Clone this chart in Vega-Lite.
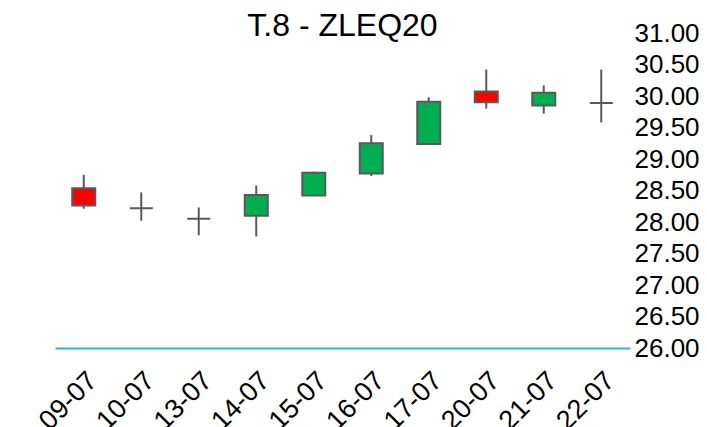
{
  "$schema": "https://vega.github.io/schema/vega-lite/v6.json",
  "autosize": {"type": "none"},
  "padding": {"left": 55, "top": 33, "right": 77, "bottom": 79},
  "width": 575,
  "height": 315,
  "background": "white",
  "config": {
    "view": {"stroke": null},
    "font": "Liberation Sans",
    "axisY": {
      "orient": "right",
      "title": null,
      "format": ".2f",
      "labelFontSize": 26,
      "labelColor": "#000000",
      "labelPadding": 4,
      "labelOverlap": false,
      "labelBound": false,
      "labelFlush": false,
      "ticks": false,
      "domain": false,
      "grid": false
    }
  },
  "title": {
    "text": "T.8 - ZLEQ20",
    "fontSize": 32,
    "fontWeight": "normal",
    "font": "Liberation Sans",
    "color": "#000000",
    "anchor": "middle",
    "frame": "group",
    "baseline": "alphabetic",
    "offset": 0,
    "dy": 48
  },
  "data": {
    "values": [
      {"date": "09-07", "open": 28.535, "high": 28.75, "low": 28.21, "close": 28.26},
      {"date": "10-07", "open": 28.22, "high": 28.47, "low": 28.02, "close": 28.22},
      {"date": "13-07", "open": 28.05, "high": 28.23, "low": 27.79, "close": 28.05},
      {"date": "14-07", "open": 28.10, "high": 28.58, "low": 27.77, "close": 28.43},
      {"date": "15-07", "open": 28.42, "high": 28.80, "low": 28.42, "close": 28.78},
      {"date": "16-07", "open": 28.77, "high": 29.38, "low": 28.73, "close": 29.25},
      {"date": "17-07", "open": 29.24, "high": 29.98, "low": 29.24, "close": 29.91},
      {"date": "20-07", "open": 30.07, "high": 30.42, "low": 29.80, "close": 29.90},
      {"date": "21-07", "open": 29.85, "high": 30.17, "low": 29.72, "close": 30.05},
      {"date": "22-07", "open": 29.89, "high": 30.42, "low": 29.58, "close": 29.89}
    ]
  },
  "encoding": {
    "x": {
      "field": "date",
      "type": "ordinal",
      "sort": null,
      "scale": {"paddingInner": 0, "paddingOuter": 0},
      "axis": {
        "title": null,
        "labelAngle": -45,
        "labelFontSize": 27,
        "labelColor": "#000000",
        "labelPadding": 19,
        "labelOverlap": false,
        "labelBound": false,
        "ticks": false,
        "domainColor": "#29b3e6",
        "domainWidth": 2,
        "grid": false
      }
    }
  },
  "layer": [
    {
      "mark": {"type": "rule", "color": "#595959", "strokeWidth": 2},
      "encoding": {
        "y": {
          "field": "low",
          "type": "quantitative",
          "scale": {"domain": [26, 31], "nice": false, "zero": false},
          "axis": {
            "orient": "right",
            "title": null,
            "values": [26, 26.5, 27, 27.5, 28, 28.5, 29, 29.5, 30, 30.5, 31],
            "format": ".2f",
            "labelOverlap": false
          }
        },
        "y2": {"field": "high"}
      }
    },
    {
      "mark": {"type": "bar", "width": 23, "stroke": "#595959", "strokeWidth": 2},
      "encoding": {
        "y": {
          "field": "open",
          "type": "quantitative",
          "axis": {
            "orient": "right",
            "title": null,
            "values": [26, 26.5, 27, 27.5, 28, 28.5, 29, 29.5, 30, 30.5, 31],
            "format": ".2f",
            "labelOverlap": false
          }
        },
        "y2": {"field": "close"},
        "fill": {
          "condition": {"test": "datum.open > datum.close", "value": "#ff0000"},
          "value": "#00b050"
        }
      }
    }
  ]
}
